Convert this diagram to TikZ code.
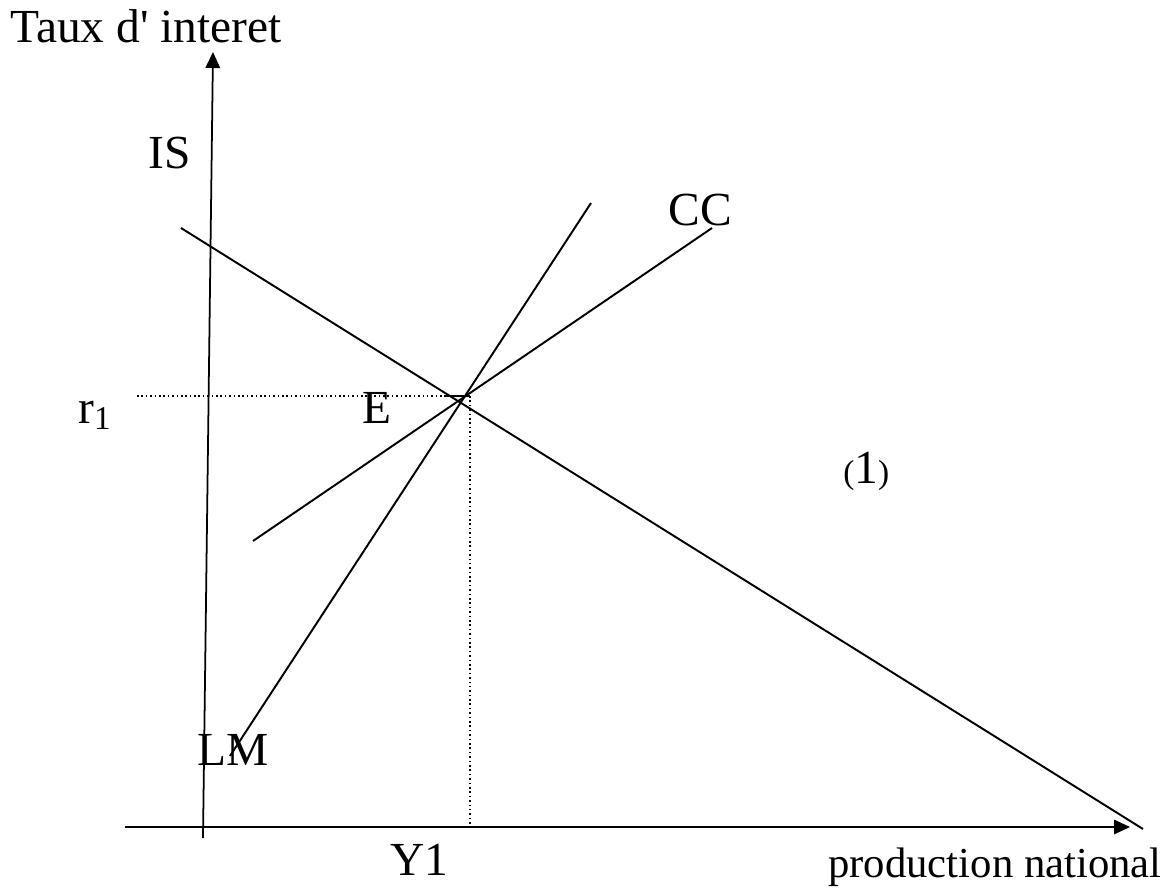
\documentclass[tikz,border=0pt]{standalone}
\usepackage{fontspec}
\setmainfont{Liberation Serif}
\usetikzlibrary{arrows.meta}
\tikzset{
  axe/.style={-{Triangle[length=3.2mm, width=2.9mm]}, line width=1pt},
  courbe/.style={line width=1.1pt},
  repere/.style={line width=.8pt, dash pattern=on .9pt off 1.6pt},
  lbl/.style={font=\fontsize{27}{32}\selectfont, inner sep=0pt, anchor=base west},
}

\begin{document}
\begin{tikzpicture}[x=0.02cm, y=-0.02cm]
  \useasboundingbox (0,0) rectangle (1166,889);

  % axes
  \coordinate (oy) at (203,838);
  \coordinate (ty) at (213,52);
  \coordinate (ox) at (125,827);
  \coordinate (tx) at (1130,827);
  \draw[axe] (oy) -- (ty);
  \draw[axe] (ox) -- (tx);

  % courbes
  \coordinate (is1) at (181,228);
  \coordinate (is2) at (1143,829);
  \coordinate (lm1) at (230,756);
  \coordinate (lm2) at (591,203);
  \coordinate (cc1) at (253,541);
  \coordinate (cc2) at (712,228);
  \draw[courbe] (is1) -- (is2);
  \draw[courbe] (lm1) -- (lm2);
  \draw[courbe] (cc1) -- (cc2);

  % equilibre
  \coordinate (r) at (137,396);
  \coordinate (e1) at (445,396);
  \coordinate (e2) at (470,396);
  \coordinate (y) at (470,827);
  \draw[repere] (r) -- (e1);
  \draw[line width=1.6pt] (e1) -- (e2);
  \draw[repere] (e2) -- (y);

  \node[lbl] (tit) at (10,42) {Taux d\textquotesingle{} interet};
  \node[lbl] (is) at (148,168) {IS};
  \node[lbl] (cc) at (668,225) {CC};
  \node[lbl] (lm) at (197,765) {LM};
  \node[lbl] (eq) at (362,423) {E};
  \node[lbl] (r1) at (78,423) {r\textsubscript{1}};
  \node[lbl] (un) at (843,483) {{\fontsize{19}{20}\selectfont(}1{\fontsize{19}{20}\selectfont)}};
  \node[lbl] (y1) at (390,875) {Y1};
  \node[lbl, font=\fontsize{24.3}{28}\selectfont] (px) at (828,877) {production national};
\end{tikzpicture}
\end{document}
